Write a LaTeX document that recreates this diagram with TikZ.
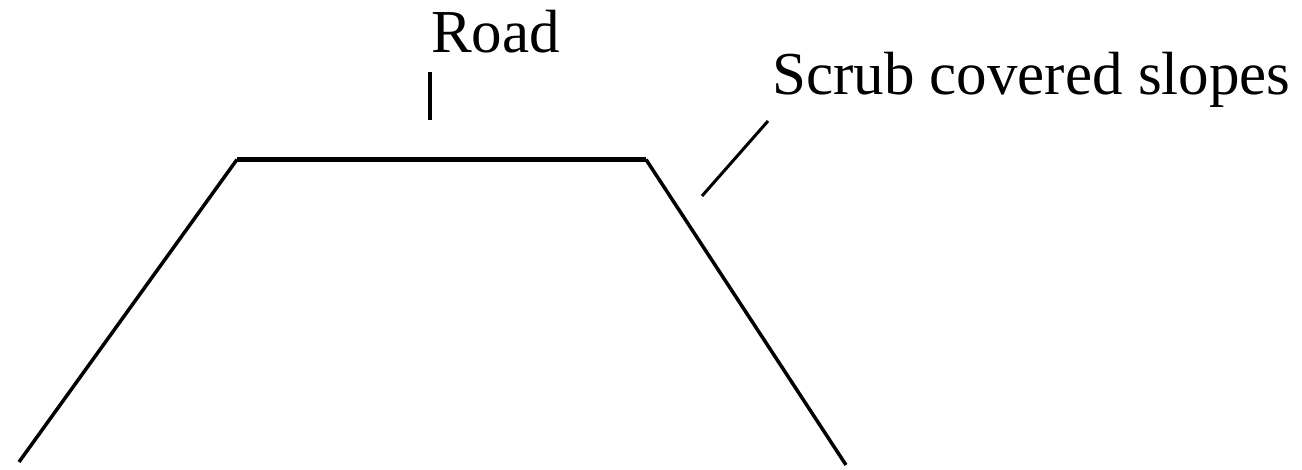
\documentclass[tikz,border=0pt]{standalone}
\usepackage{fontspec}
\setmainfont{Liberation Serif}
\begin{document}
\begin{tikzpicture}[x=1pt,y=-1pt,
  lbl/.style={inner sep=0pt,anchor=base west,font=\fontsize{61}{61}\selectfont},
  slope/.style={line width=3.5pt,line cap=butt},
  road/.style={line width=5pt},
  leader/.style={line width=4.5pt},
  thinleader/.style={line width=3pt}]
\useasboundingbox (0,0) rectangle (1302,470);
\coordinate (bl) at (19,462);
\coordinate (tl) at (237,159.5);
\coordinate (tr) at (646,159.5);
\coordinate (br) at (846,465);
\node[lbl] (roadlbl) at (431,53) {Road};
\node[lbl] (scrublbl) at (772,95) {Scrub covered slopes};
\coordinate (rt1) at (430,72);
\coordinate (rt2) at (430,120);
\coordinate (sl1) at (702,196);
\coordinate (sl2) at (768,121);
\draw[slope] (bl) -- (tl);
\draw[road] (tl) -- (tr);
\draw[slope] (tr) -- (br);
\draw[leader] (rt1) -- (rt2);
\draw[thinleader] (sl1) -- (sl2);
\end{tikzpicture}
\end{document}
